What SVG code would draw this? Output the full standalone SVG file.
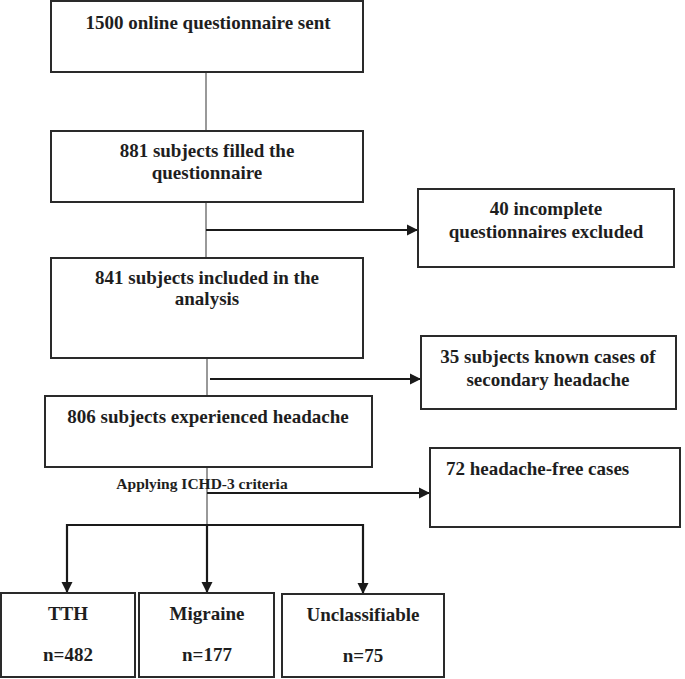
<svg xmlns="http://www.w3.org/2000/svg" width="685" height="679" viewBox="0 0 685 679">
<style>
.box{fill:#fff;stroke:#2a2a2a;stroke-width:2}
.t{font-family:'Liberation Serif','Times New Roman',Tinos,'DejaVu Serif',serif;font-weight:700;font-size:19px;fill:#1e1e1e;text-anchor:middle}
.s{font-size:15.5px}
.thin{stroke:#555;stroke-width:1.2;fill:none}
.arr{stroke:#1a1a1a;stroke-width:2.2;fill:none;marker-end:url(#ah)}
.ln{stroke:#1a1a1a;stroke-width:2.2;fill:none}
</style>
<defs>
<marker id="ah" markerUnits="userSpaceOnUse" markerWidth="12" markerHeight="12" refX="11" refY="6" orient="auto">
<path d="M0,0.5 L11,6 L0,11.5 Z" fill="#1a1a1a"/>
</marker>
</defs>
<rect width="685" height="679" fill="#fff"/>
<g id="connectors">
<line class="thin" x1="206" y1="72" x2="206" y2="131"/>
<line class="thin" x1="206" y1="202" x2="206" y2="258"/>
<line class="arr" x1="206" y1="230" x2="418" y2="230"/>
<line class="thin" x1="207" y1="358" x2="207" y2="396"/>
<line class="arr" x1="210" y1="379" x2="421" y2="379"/>
<line class="thin" x1="207" y1="467" x2="207" y2="525"/>
<line class="arr" x1="207" y1="493" x2="430" y2="493"/>
<line class="ln" x1="67" y1="525" x2="363" y2="525"/>
<line class="arr" x1="67" y1="524" x2="67" y2="593"/>
<line class="arr" x1="207" y1="525" x2="207" y2="593"/>
<line class="arr" x1="363" y1="524" x2="363" y2="594"/>
<text class="t s" x="202" y="489" font-family="Liberation Serif">Applying ICHD-3 criteria</text>
</g>
<g id="n1"><rect class="box" x="51" y="1" width="312" height="71"/>
<text class="t" x="208" y="29">1500 online questionnaire sent</text></g>
<g id="n2"><rect class="box" x="51" y="131" width="312" height="71"/>
<text class="t" x="207" y="157">881 subjects filled the</text>
<text class="t" x="207" y="179">questionnaire</text></g>
<g id="n3"><rect class="box" x="418" y="189" width="256" height="78"/>
<text class="t" x="546" y="215">40 incomplete</text>
<text class="t" x="546" y="238">questionnaires excluded</text></g>
<g id="n4"><rect class="box" x="51" y="258" width="312" height="100"/>
<text class="t" x="207" y="284">841 subjects included in the</text>
<text class="t" x="207" y="305">analysis</text></g>
<g id="n5"><rect class="box" x="421" y="336" width="255" height="73"/>
<text class="t" x="548" y="363">35 subjects known cases of</text>
<text class="t" x="548" y="386">secondary headache</text></g>
<g id="n6"><rect class="box" x="45" y="396" width="327" height="71"/>
<text class="t" x="208" y="423">806 subjects experienced headache</text></g>
<g id="n7"><rect class="box" x="430" y="448" width="250" height="79"/>
<text class="t" x="446" y="475" style="text-anchor:start">72 headache-free cases</text></g>
<g id="n8"><rect class="box" x="1" y="593" width="134" height="84"/>
<text class="t" x="68" y="620">TTH</text>
<text class="t" x="68" y="661">n=482</text></g>
<g id="n9"><rect class="box" x="139" y="593" width="135" height="84"/>
<text class="t" x="207" y="620">Migraine</text>
<text class="t" x="207" y="661">n=177</text></g>
<g id="n10"><rect class="box" x="282" y="594" width="162" height="83"/>
<text class="t" x="363" y="621">Unclassifiable</text>
<text class="t" x="363" y="662">n=75</text></g>
</svg>
